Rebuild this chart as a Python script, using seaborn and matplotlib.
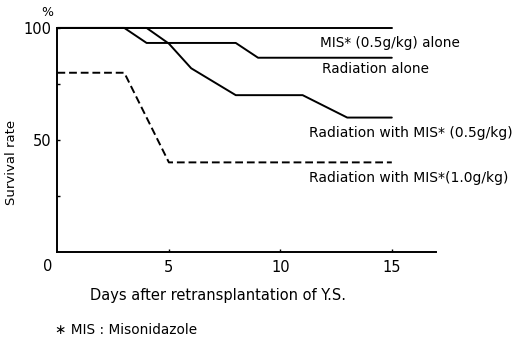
import matplotlib
matplotlib.use("Agg")
import matplotlib.pyplot as plt
import seaborn as sns

# survival data (days, % surviving)
days_mis = [0, 15]
surv_mis = [100, 100]

days_rad = [0, 3, 4, 8, 9, 15]
surv_rad = [100, 100, 93.3, 93.3, 86.7, 86.7]

days_rad_mis05 = [0, 4, 5, 6, 8, 11, 13, 15]
surv_rad_mis05 = [100, 100, 93, 82, 70, 70, 60, 60]

days_rad_mis10 = [0, 3, 5, 15]
surv_rad_mis10 = [80, 80, 40, 40]

labels = ["MIS* (0.5g/kg) alone", "Radiation alone",
          "Radiation with MIS* (0.5g/kg)", "Radiation with MIS*(1.0g/kg)"]
label_pos = [(11.8, 93.3), (11.85, 81.5), (11.3, 53), (11.3, 33)]

sns.set_style("ticks", {"text.color": "black", "axes.labelcolor": "black",
                        "xtick.color": "black", "ytick.color": "black",
                        "axes.edgecolor": "black"})
plt.rcParams['font.family'] = ['DejaVu Sans']

fig = plt.figure(figsize=(5.22, 3.39), dpi=100)
ax = fig.add_axes([0.110, 0.2566, 0.726, 0.661])

kw = dict(color="black", linewidth=1.4, ax=ax, clip_on=False)
sns.lineplot(x=days_mis, y=surv_mis, **kw)
sns.lineplot(x=days_rad, y=surv_rad, **kw)
sns.lineplot(x=days_rad_mis05, y=surv_rad_mis05, **kw)
sns.lineplot(x=days_rad_mis10, y=surv_rad_mis10, linestyle=(0, (4, 2)), **kw)

fs = [9.8, 9.8, 10.0, 10.0]
for txt, (x, y), f in zip(labels, label_pos, fs):
    ax.text(x, y, txt, fontsize=f, va="center", ha="left", color="black")

ax.set_xlim(0, 17)
ax.set_ylim(0, 100)
ax.set_xticks([5, 10, 15])
ax.set_yticks([50, 100])
ax.set_yticks([25, 75], minor=True)
ax.tick_params(axis="both", direction="in", length=2.5, width=1, labelsize=10.5, pad=4,
               colors="black")
ax.tick_params(axis="x", pad=6)
ax.tick_params(axis="y", which="minor", direction="in", length=2.5, width=1, colors="black")
ax.text(-0.45, -6.5, "0", fontsize=10.5, ha="center", va="center", color="black")
ax.text(-0.45, 107, "%", fontsize=9, ha="center", va="center", color="black")

sns.despine(ax=ax)
for s in ["left", "bottom"]:
    ax.spines[s].set_linewidth(1.4)
    ax.spines[s].set_color("black")

ax.set_xlabel("Days after retransplantation of Y.S.", fontsize=10.5, color="black")
ax.xaxis.set_label_coords(0.423, -0.16)
ax.set_ylabel("Survival rate", fontsize=9.5, color="black")
ax.yaxis.set_label_coords(-0.104, 0.40)

fig.text(0.105, 0.027, "∗ MIS : Misonidazole", fontsize=9.8, va="center", ha="left",
         color="black")

fig.savefig("out.png", dpi=100)
